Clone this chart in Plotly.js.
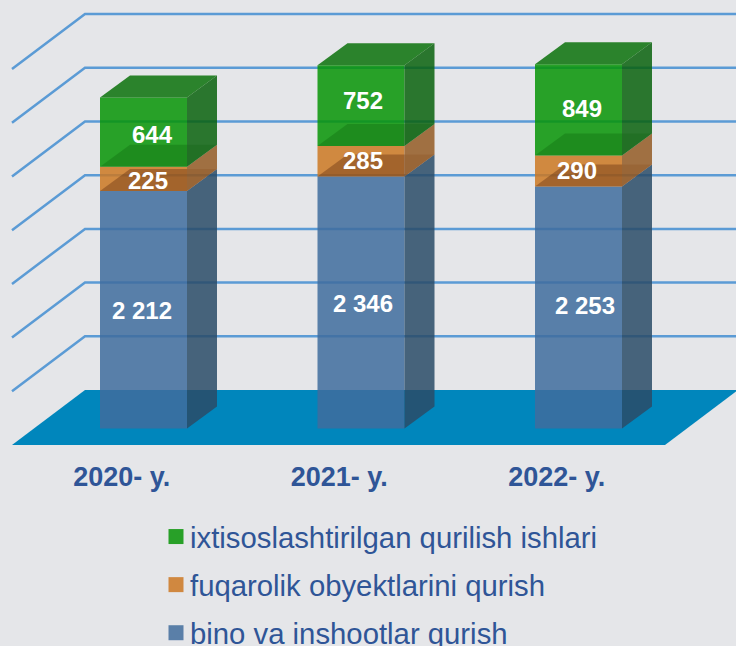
<!DOCTYPE html>
<html><head><meta charset="utf-8">
<script src="https://cdn.plot.ly/plotly-3.0.1.min.js"></script>
<style>html,body{margin:0;padding:0;background:#E5E6E9;width:736px;height:646px;overflow:hidden}</style>
</head><body><div id="chart" style="width:736px;height:700px"></div>
<script>
// ---- data ----
const categories = ['2020- y.', '2021- y.', '2022- y.'];
const binoValues = [2212, 2346, 2253];
const fuqarolikValues = [225, 285, 290];
const ixtisosValues = [644, 752, 849];
const seriesNames = ['bino va inshootlar qurish', 'fuqarolik obyektlarini qurish', 'ixtisoslashtirilgan qurilish ishlari'];
const gridLevels = [500, 1000, 1500, 2000, 2500, 3000, 3500];
const labelTexts = [['2 212', '2 346', '2 253'], ['225', '285', '290'], ['644', '752', '849']];
// ---- label nudges (px) ----
const labelDx = [[-2, 2, 6], [4, 2, -2], [9, 2, 3]];
const labelDy = [[1, 1, -2], [2, -1, 0], [2, -5, -1]];

// ---- geometry ----
const W = 736, H = 700, PLOT_BOTTOM = 455, BASE_PX = 428.5;
const PX_PER_CAT = 217.5, PX_PER_VAL = 0.1074, FIRST_PX = 143.5;
const xRange = [-FIRST_PX / PX_PER_CAT, (W - FIRST_PX) / PX_PER_CAT];
const yRange = [(BASE_PX - PLOT_BOTTOM) / PX_PER_VAL, BASE_PX / PX_PER_VAL];
const BAR_W = 87 / PX_PER_CAT;
const DX = 30 / PX_PER_CAT, DY = 22 / PX_PER_VAL;       // bar depth
const WALL_DX = 73 / PX_PER_CAT, WALL_DY = 55 / PX_PER_VAL; // chart depth
const WALL_BASE = (BASE_PX - 390) / PX_PER_VAL;
const FLOOR_LEFT = (85 - FIRST_PX) / PX_PER_CAT, FLOOR_RIGHT = (W + 2 - FIRST_PX) / PX_PER_CAT;

const series = [binoValues, fuqarolikValues, ixtisosValues];
const front = ['rgba(63,108,157,.85)', 'rgba(205,120,34,.85)', 'rgba(7,148,6,.85)'];
const side = ['rgba(42,75,103,.85)', 'rgba(148,90,36,.85)', 'rgba(9,97,13,.85)'];
const swatch = ['#5A7FA8', '#D08840', '#28A028'];
const inner = ['rgba(61,16,0,.3)', 'rgba(0,80,0,.25)'];
const greenTop = 'rgba(10,113,10,.85)';

const traces = [];
function poly(xs, ys, color, axes) {
  traces.push({type: 'scatter', mode: 'lines', x: xs.concat(xs[0]), y: ys.concat(ys[0]), fill: 'toself',
    fillcolor: color, line: {width: 0}, showlegend: false, hoverinfo: 'skip', xaxis: axes[0], yaxis: axes[1]});
}
// floor
poly([FLOOR_LEFT - WALL_DX, FLOOR_RIGHT - WALL_DX, FLOOR_RIGHT, FLOOR_LEFT],
     [WALL_BASE - WALL_DY, WALL_BASE - WALL_DY, WALL_BASE, WALL_BASE], '#0086BC', ['x', 'y']);
// walls
const gx = [], gy = [];
gridLevels.forEach(v => {
  const y = v + WALL_BASE;
  gx.push(FLOOR_LEFT - WALL_DX, FLOOR_LEFT, FLOOR_RIGHT, null);
  gy.push(y - WALL_DY, y, y, null);
});
traces.push({type: 'scatter', mode: 'lines', x: gx, y: gy, line: {color: '#5B9BD5', width: 2.5},
  showlegend: false, hoverinfo: 'skip', xaxis: 'x', yaxis: 'y'});

// front faces
const idx = categories.map((c, i) => i);
const bases = [idx.map(() => 0)];
series.forEach((s, k) => bases.push(s.map((v, i) => bases[k][i] + v)));
series.forEach((s, k) => {
  traces.push({type: 'bar', name: seriesNames[k], x: idx, y: s, base: bases[k], width: BAR_W,
    marker: {color: front[k], line: {width: 0}}, showlegend: false,
    hoverinfo: 'y', xaxis: 'x2', yaxis: 'y2'});
  // legend entry with the reference's larger square swatch
  traces.push({type: 'scatter', mode: 'markers', name: seriesNames[k], x: [null], y: [null],
    marker: {symbol: 'square', size: 15, color: swatch[k]}, legendgroup: 'g' + k, legendrank: 10 - k,
    hoverinfo: 'skip', xaxis: 'x2', yaxis: 'y2'});
});
// side and top faces
idx.forEach(i => {
  const l = i - BAR_W / 2, r = i + BAR_W / 2;
  series.forEach((s, k) => {
    const lo = bases[k][i], hi = bases[k + 1][i];
    poly([r, r + DX, r + DX, r], [lo, lo + DY, hi + DY, hi], side[k], ['x2', 'y2']);
    poly([l, r, r + DX, l + DX], [hi, hi, hi + DY, hi + DY], k === 2 ? greenTop : inner[k], ['x2', 'y2']);
  });
});

// value labels
const annotations = [];
series.forEach((s, k) => s.forEach((v, i) => annotations.push({
  x: i, y: bases[k][i] + v / 2, xref: 'x', yref: 'y', text: labelTexts[k][i], showarrow: false,
  xshift: labelDx[k][i], yshift: -labelDy[k][i],
  font: {family: '"Liberation Sans", Arial, sans-serif', size: 24, color: '#FFFFFF', weight: 700}
})));

const hiddenAxis = {visible: false, fixedrange: true};
const layout = {
  width: W, height: H, margin: {l: 0, r: 0, t: 0, b: H - PLOT_BOTTOM, pad: 0},
  paper_bgcolor: '#E5E6E9', plot_bgcolor: 'rgba(0,0,0,0)', barmode: 'overlay', showlegend: true,
  font: {family: '"Liberation Sans", Arial, sans-serif'},
  xaxis: {range: xRange, tickmode: 'array', tickvals: idx.map(i => i - 0.1), ticktext: categories,
    showgrid: false, zeroline: false, showline: false, ticks: '', ticklabelstandoff: 3, fixedrange: true,
    tickfont: {family: '"Liberation Sans", Arial, sans-serif', size: 27, color: '#2F5597', weight: 700}},
  yaxis: Object.assign({range: yRange}, hiddenAxis),
  xaxis2: Object.assign({range: xRange, overlaying: 'x'}, hiddenAxis),
  yaxis2: Object.assign({range: yRange, overlaying: 'y'}, hiddenAxis),
  legend: {x: 150 / W, xanchor: 'left', y: -56 / PLOT_BOTTOM, yanchor: 'top', traceorder: 'grouped',
    tracegroupgap: 7, bgcolor: 'rgba(0,0,0,0)', itemclick: false, itemdoubleclick: false,
    font: {family: '"Liberation Sans", Arial, sans-serif', size: 29.3, color: '#2F5597'}},
  annotations: annotations
};
Plotly.newPlot('chart', traces, layout, {displayModeBar: false, staticPlot: true}).then(gd => {
  // swatches sit closer to their text than Plotly's minimum item width allows
  gd.querySelectorAll('.legendpoints').forEach(g => g.setAttribute('transform', 'translate(6,0)'));
});
</script></body></html>
